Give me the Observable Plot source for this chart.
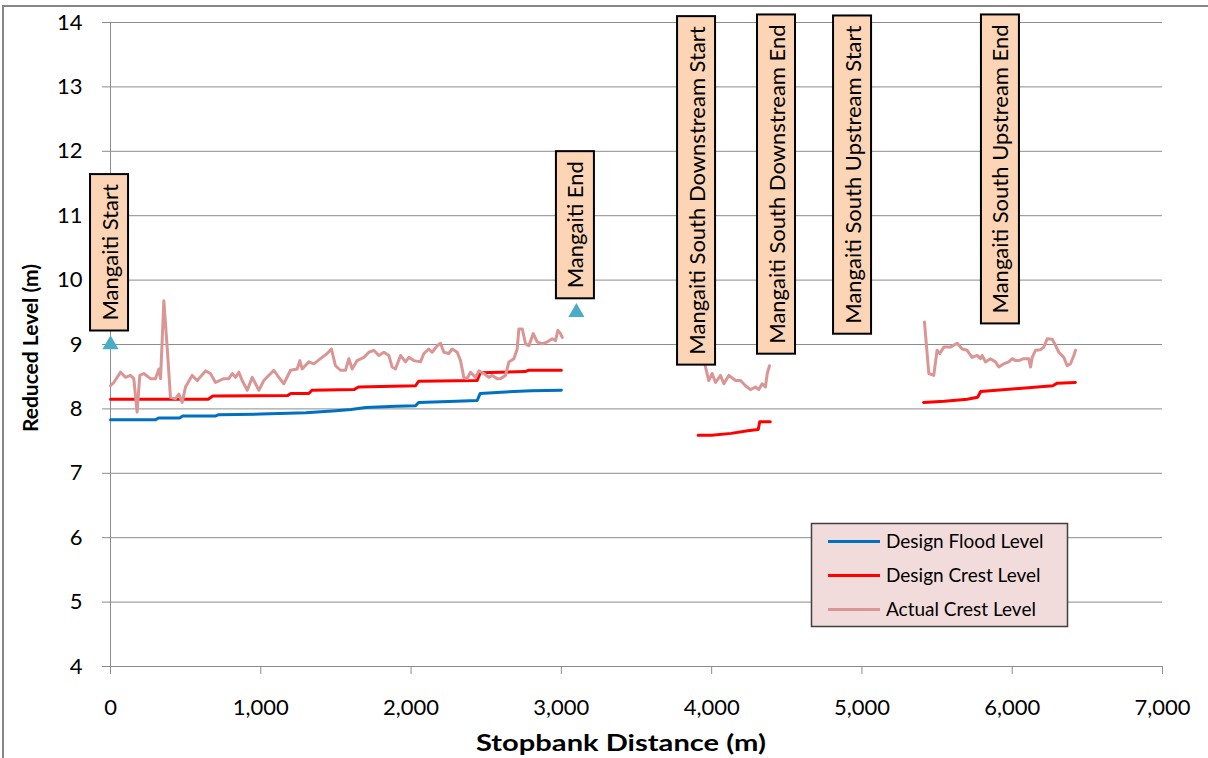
<!DOCTYPE html>
<html><head><meta charset="utf-8">
<script src="https://cdn.jsdelivr.net/npm/d3@7"></script>
<script src="https://cdn.jsdelivr.net/npm/@observablehq/plot@0.6"></script>
<style>
body{margin:0;background:#fff;}
#chart{position:relative;width:1208px;height:758px;}
svg{font-family:Lato,"Open Sans",sans-serif;}
</style>
</head><body><div id="chart"></div>
<script>
// ---- data ----
const xTicks = [0,1000,2000,3000,4000,5000,6000,7000];
const yTicks = [4,5,6,7,8,9,10,11,12,13,14];

const floodLevel = [[0,7.83],[300,7.83],[320,7.86],[460,7.86],[480,7.89],[700,7.89],[720,7.91],[1000,7.92],[1300,7.94],[1500,7.97],[1600,7.99],[1700,8.02],[1900,8.04],[2030,8.05],[2050,8.10],[2300,8.12],[2440,8.13],[2460,8.24],[2600,8.26],[2800,8.28],[3000,8.29]];

const crestLevel1 = [[0,8.15],[650,8.15],[680,8.20],[1180,8.21],[1200,8.24],[1320,8.24],[1340,8.29],[1620,8.30],[1650,8.34],[2030,8.36],[2050,8.43],[2440,8.44],[2460,8.56],[2760,8.58],[2780,8.60],[3000,8.60]];
const crestLevel2 = [[3910,7.59],[4000,7.59],[4130,7.62],[4240,7.66],[4310,7.68],[4320,7.80],[4390,7.80]];
const crestLevel3 = [[5410,8.10],[5550,8.12],[5700,8.15],[5770,8.18],[5790,8.27],[6000,8.31],[6270,8.36],[6300,8.40],[6420,8.41]];

const actual1 = [[0,8.36],[22,8.41],[67,8.57],[100,8.49],[133,8.52],[155,8.47],[177,7.95],[195,8.52],[222,8.55],[266,8.47],[299,8.47],[322,8.62],[333,8.47],[355,9.68],[377,8.96],[399,8.18],[432,8.16],[455,8.23],[477,8.10],[499,8.34],[543,8.52],[577,8.44],[632,8.59],[665,8.55],[699,8.41],[754,8.47],[787,8.47],[810,8.55],[832,8.49],[854,8.57],[876,8.44],[910,8.29],[943,8.49],[987,8.29],[1020,8.44],[1087,8.60],[1120,8.49],[1153,8.39],[1198,8.60],[1242,8.62],[1260,8.75],[1275,8.62],[1320,8.73],[1353,8.70],[1397,8.78],[1442,8.86],[1470,8.93],[1497,8.67],[1530,8.60],[1564,8.60],[1586,8.78],[1608,8.62],[1641,8.75],[1686,8.80],[1719,8.88],[1752,8.91],[1785,8.83],[1819,8.88],[1852,8.83],[1874,8.65],[1896,8.62],[1930,8.83],[1963,8.73],[1985,8.80],[2018,8.75],[2063,8.73],[2085,8.86],[2118,8.93],[2140,8.88],[2174,8.98],[2196,9.02],[2218,8.88],[2251,8.86],[2273,8.93],[2307,8.88],[2329,8.75],[2351,8.49],[2373,8.47],[2395,8.57],[2429,8.49],[2451,8.59],[2484,8.55],[2517,8.49],[2540,8.52],[2573,8.47],[2595,8.47],[2628,8.52],[2651,8.73],[2684,8.78],[2706,8.93],[2717,9.24],[2740,9.24],[2762,9.01],[2784,8.98],[2813,9.17],[2839,9.04],[2873,9.01],[2906,9.04],[2939,9.09],[2961,9.06],[2977,9.22],[2994,9.17],[3006,9.11]];
const actual2 = [[3950,8.80],[3959,8.65],[3981,8.44],[4003,8.55],[4026,8.41],[4059,8.52],[4081,8.39],[4114,8.52],[4159,8.44],[4192,8.44],[4225,8.36],[4258,8.30],[4292,8.34],[4314,8.30],[4336,8.39],[4358,8.34],[4370,8.55],[4385,8.67]];
const actual3 = [[5416,9.35],[5445,8.55],[5478,8.52],[5500,8.91],[5518,8.86],[5545,8.96],[5589,8.96],[5634,9.02],[5667,8.93],[5700,8.91],[5733,8.80],[5767,8.83],[5789,8.78],[5800,8.83],[5822,8.73],[5855,8.78],[5889,8.73],[5911,8.65],[5944,8.70],[5977,8.73],[6000,8.78],[6022,8.75],[6044,8.75],[6077,8.78],[6110,8.78],[6122,8.65],[6133,8.80],[6155,8.91],[6189,8.92],[6210,8.96],[6233,9.09],[6266,9.08],[6281,9.02],[6310,8.88],[6343,8.80],[6366,8.67],[6388,8.70],[6410,8.83],[6421,8.91]];

const markerX = [0, 3100];
const markerY = [9.0, 9.5];

const labelNames = ["Mangaiti Start","Mangaiti End","Mangaiti South Downstream Start","Mangaiti South Downstream End","Mangaiti South Upstream Start","Mangaiti South Upstream End"];
const labelX = [0, 3100, 3906, 4438, 4944, 5928];
const labelY = [9.0, 9.5, 8.47, 8.64, 8.95, 9.11];

const seriesNames = ["Design Flood Level","Design Crest Level","Actual Crest Level"];
const seriesColors = ["#0070C0","#FF0000","#D99694"];

// ---- build tables ----
function rows(segs){ return segs.flatMap((s,i)=>s.map(([x,y])=>({x,y,seg:i}))); }
const floodRows = rows([floodLevel]);
const crestRows = rows([crestLevel1,crestLevel2,crestLevel3]);
const actualRows = rows([actual1,actual2,actual3]);
const markers = markerX.map((x,i)=>({x,y:markerY[i]}));
const labels = labelNames.map((t,i)=>({t,x:labelX[i],y:labelY[i]}));

const grid = "#8c8c8c";
const plot = Plot.plot({
  width:1208, height:758,
  marginLeft:110, marginRight:46, marginTop:22, marginBottom:92,
  style:{fontFamily:"Lato, 'Open Sans', sans-serif", color:"#000", background:"transparent"},
  x:{domain:[0,7000]},
  y:{domain:[4,14]},
  marks:[
    Plot.ruleY(yTicks,{stroke:grid,strokeWidth:1}),
    Plot.ruleX([0],{y1:4,y2:14,stroke:grid,strokeWidth:1}),
    Plot.axisY({ticks:yTicks,tickSize:8,tickPadding:20,fontSize:22,label:null,stroke:grid,fill:"#000"}),
    Plot.axisX({ticks:xTicks,tickSize:8,tickPadding:25,fontSize:22,label:null,tickFormat:d3.format(","),stroke:grid,fill:"#000"}),
    Plot.line(floodRows,{x:"x",y:"y",z:"seg",stroke:seriesColors[0],strokeWidth:3}),
    Plot.line(crestRows,{x:"x",y:"y",z:"seg",stroke:seriesColors[1],strokeWidth:3}),
    Plot.line(actualRows,{x:"x",y:"y",z:"seg",stroke:seriesColors[2],strokeWidth:3}),
    Plot.dot(markers,{x:"x",y:"y",symbol:"triangle",fill:"#4BACC6",r:6,stroke:"none"}),
    Plot.text(labels,{x:"x",y:"y",text:"t",rotate:-90,textAnchor:"start",dy:-24,fontSize:22,fill:"#000"})
  ]
});
document.getElementById("chart").appendChild(plot);

// label boxes behind the texts
const svg = d3.select(plot);
const svgRect = plot.getBoundingClientRect();
const textGroups = svg.selectAll("g[aria-label='text']");
const tg = textGroups.nodes()[textGroups.size()-1];
const boxLayer = d3.select(tg.parentNode).insert("g", () => tg);
d3.select(tg).selectAll("text").each(function(){
  const b = this.getBoundingClientRect();
  const cx = (b.left + b.right)/2 - svgRect.left;
  let x0 = cx - 19, x1 = cx + 19;
  let y0 = b.top - svgRect.top - 10, y1 = b.bottom - svgRect.top + 10;
  y0 = Math.max(y0, 7);
  boxLayer.append("rect").attr("x",x0).attr("y",y0).attr("width",x1-x0).attr("height",y1-y0)
    .attr("fill","#FBD5B5").attr("stroke","#000").attr("stroke-width",2);
});

// axis titles
svg.append("text").attr("transform","translate(31,348) rotate(-90)").attr("text-anchor","middle")
  .attr("font-size",21).attr("font-weight","bold").attr("dy","0.35em").text("Reduced Level (m)");
svg.append("text").attr("x",621).attr("y",743).attr("text-anchor","middle")
  .attr("font-size",22).attr("font-weight","bold").attr("dy","0.35em")
  .attr("textLength",290).attr("lengthAdjust","spacingAndGlyphs").text("Stopbank Distance (m)");

// legend
const lg = svg.append("g");
lg.append("rect").attr("x",811.5).attr("y",523.5).attr("width",256).attr("height",103)
  .attr("fill","#F2DCDB").attr("stroke","#404040").attr("stroke-width",1.5);
seriesNames.forEach((n,i)=>{
  const yy = 541.5 + i*34;
  lg.append("line").attr("x1",828).attr("x2",880).attr("y1",yy).attr("y2",yy)
    .attr("stroke",seriesColors[i]).attr("stroke-width",3);
  lg.append("text").attr("x",886).attr("y",yy).attr("dy","0.35em").attr("text-anchor","start")
    .attr("font-size",19).attr("fill","#000").text(n);
});

// outer chart border
svg.append("rect").attr("x",3).attr("y",6).attr("width",1210).attr("height",770)
  .attr("fill","none").attr("stroke","#868686").attr("stroke-width",2);
</script>
</body></html>
